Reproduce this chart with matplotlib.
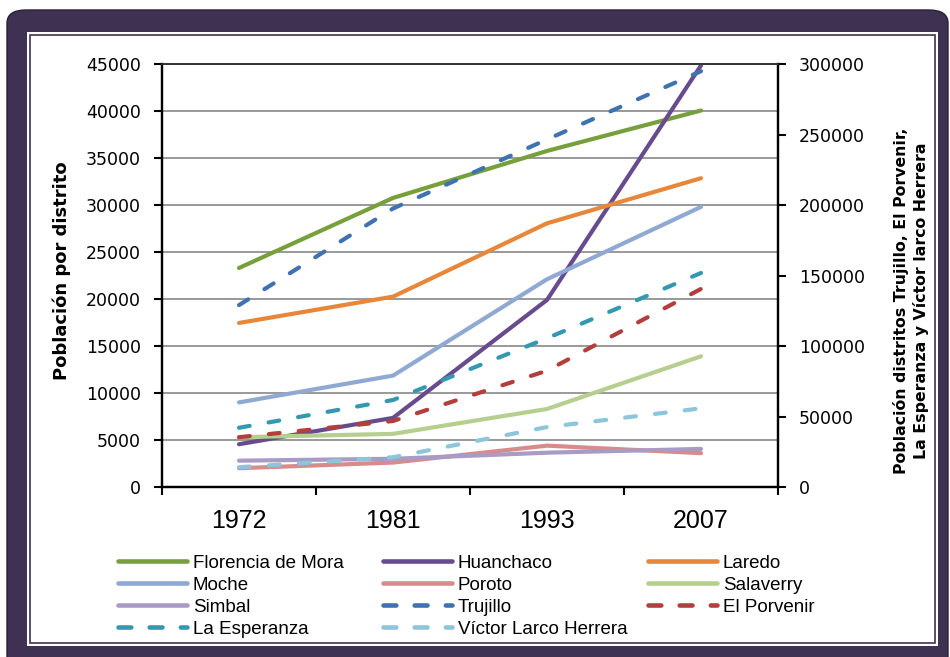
import matplotlib
matplotlib.use("Agg")
import matplotlib.pyplot as plt
from matplotlib.patches import FancyBboxPatch, Rectangle
from matplotlib.lines import Line2D

# data
years = ['1972', '1981', '1993', '2007']

# left axis (solid lines)
florencia = [23300, 30750, 35750, 40050]
huanchaco = [4550, 7350, 19900, 44850]
laredo = [17450, 20250, 28050, 32850]
moche = [9000, 11850, 22100, 29800]
poroto = [2000, 2600, 4400, 3600]
salaverry = [5300, 5650, 8300, 13900]
simbal = [2800, 3000, 3650, 4050]

# right axis (dashed lines)
trujillo = [129000, 197500, 246500, 294900]
el_porvenir = [35300, 46800, 82500, 140500]
la_esperanza = [42000, 61700, 105500, 151800]
victor_larco = [14000, 21100, 42500, 55800]

W, H = 950, 657
fig = plt.figure(figsize=(W / 100, H / 100), dpi=100)
fig.patch.set_facecolor('white')

def fx(px):
    return px / W

def fy(py):
    return 1 - py / H

# purple frame
frame_col = '#3f3152'
fig.patches.append(FancyBboxPatch((fx(7), fy(670)), fx(941), 660 / H,
                                  boxstyle='round,pad=0,rounding_size=0.02',
                                  transform=fig.transFigure, facecolor=frame_col,
                                  edgecolor='#2a2036', lw=1, zorder=-3))
fig.patches.append(Rectangle((fx(27), fy(646)), fx(911), 614 / H,
                             transform=fig.transFigure, facecolor='white',
                             edgecolor='none', zorder=-2))
fig.patches.append(Rectangle((fx(30), fy(643)), fx(905), 608 / H,
                             transform=fig.transFigure, facecolor='none',
                             edgecolor=frame_col, lw=1.2, zorder=-1))

ax = fig.add_axes([fx(162), fy(487), fx(616), 423 / H])
ax2 = ax.twinx()
ax.patch.set_alpha(0)
ax2.patch.set_alpha(0)
x = range(len(years))

lw = 3
left_series = [
    ('Florencia de Mora', florencia, '#77a03d'),
    ('Huanchaco', huanchaco, '#684b8e'),
    ('Laredo', laredo, '#e8873a'),
    ('Moche', moche, '#8fa9d2'),
    ('Poroto', poroto, '#d88b8b'),
    ('Salaverry', salaverry, '#b6cf8f'),
    ('Simbal', simbal, '#a99bc4'),
]
right_series = [
    ('Trujillo', trujillo, '#3f72b0'),
    ('El Porvenir', el_porvenir, '#b23f3d'),
    ('La Esperanza', la_esperanza, '#3399b1'),
    ('Víctor Larco Herrera', victor_larco, '#8dc5da'),
]

handles = {}
for name, vals, col in left_series:
    h, = ax.plot(x, vals, color=col, lw=lw, solid_capstyle='round', zorder=3)
    handles[name] = h
for name, vals, col in right_series:
    h, = ax2.plot(x, vals, color=col, lw=lw, dashes=(2.6, 4.6),
                  dash_capstyle='round', zorder=3)
    handles[name] = h

ax.set_xlim(-0.5, 3.5)
ax.set_ylim(0, 45000)
ax2.set_ylim(0, 300000)
ax.set_yticks(range(0, 45001, 5000))
ax2.set_yticks(range(0, 300001, 50000))
ax.yaxis.grid(True, color='#878787', lw=1.2)
ax.set_axisbelow(True)

ax.set_xticks(list(x))
ax.set_xticklabels(years, fontsize=18, family='Liberation Sans')
ax.set_xticks([-0.5, 0.5, 1.5, 2.5, 3.5], minor=True)
ax.tick_params(axis='x', which='major', length=0, pad=16)
ax.tick_params(axis='x', which='minor', length=6, width=1.5, direction='out')
ax.tick_params(axis='y', length=6, width=1.5, direction='out', labelsize=12.5, pad=9)
ax2.tick_params(axis='y', length=6, width=1.5, direction='out', labelsize=12.5, pad=9)

for a in (ax, ax2):
    for s in a.spines.values():
        s.set_color('black')
        s.set_linewidth(1.6)
    a.spines['top'].set_linewidth(1.2)
    a.spines['top'].set_color('#333333')

fig.text(fx(62), fy(271), 'Población por distrito', rotation=90, ha='center',
         va='center', fontsize=13, fontweight='bold')
fig.text(fx(911), fy(301),
         'Población distritos Trujillo, El Porvenir,\nLa Esperanza y Víctor larco Herrera',
         rotation=90, ha='center', va='center', multialignment='center',
         fontsize=11.3, fontweight='bold', linespacing=1.3)

# legend: three equal-width columns, filled row by row
order = ['Florencia de Mora', 'Huanchaco', 'Laredo',
         'Moche', 'Poroto', 'Salaverry',
         'Simbal', 'Trujillo', 'El Porvenir',
         'La Esperanza', 'Víctor Larco Herrera']
col_x = [114, 379, 644]
for c in range(3):
    names = order[c::3]
    hs = []
    for n in names:
        src = handles[n]
        hl = Line2D([], [], color=src.get_color(), lw=3.3, solid_capstyle='round',
                    dash_capstyle='round')
        if n in [s[0] for s in right_series]:
            hl.set_dashes((2.8, 4.0))
        hs.append(hl)
    fig.legend(hs, names, loc='upper left', bbox_to_anchor=(fx(col_x[c]), fy(551)),
               frameon=False, ncol=1, handlelength=3.7, handletextpad=0.3,
               labelspacing=0.26, borderaxespad=0, borderpad=0.2,
               prop={'family': 'Liberation Sans', 'size': 13.5})

fig.savefig('out.png', dpi=100, facecolor=fig.get_facecolor())
